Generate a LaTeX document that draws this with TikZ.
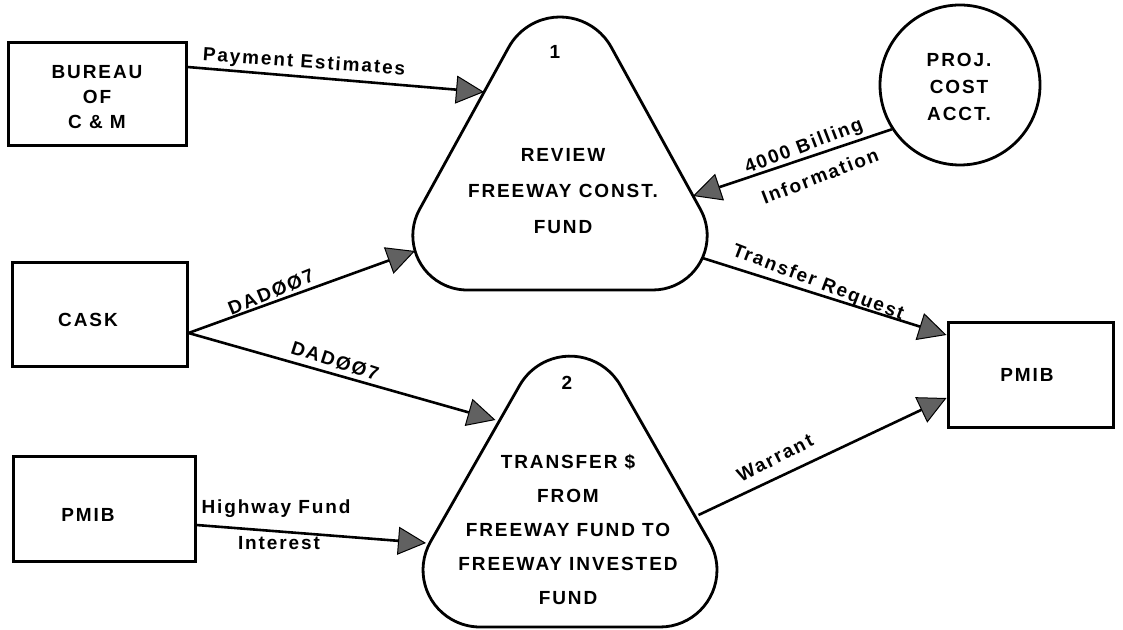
\documentclass[tikz,border=0pt]{standalone}
\usepackage{fontspec}
\setmainfont{Liberation Sans}[LetterSpace=10]
\usetikzlibrary{arrows.meta}

% Rounded process triangle: #1 centre x, #2 apex y, #3 base y,
% #4 half angle at the apex, #5 apex radius, #6 base corner radius
\newcommand\proctri[6]{%
  \pgfmathsetmacro\ptS{sin(#4)}%
  \pgfmathsetmacro\ptC{cos(#4)}%
  \pgfmathsetmacro\ptU{((#2-#3)*\ptS-#6*(1+\ptS))/\ptC}%
  \pgfmathsetmacro\ptT{#2-#5/\ptS}%
  \draw[procline] (#1-\ptU,#3) -- (#1+\ptU,#3)
    arc[start angle=-90,end angle=#4,radius=#6pt]
    -- (#1+#5*\ptC,\ptT+#5*\ptS)
    arc[start angle=#4,end angle=180-#4,radius=#5pt]
    -- (#1-\ptU-#6*\ptC,#3+#6+#6*\ptS)
    arc[start angle=180-#4,end angle=270,radius=#6pt]
    -- cycle;
}

\tikzset{
  entity/.style={draw, line width=3pt, rectangle, inner sep=0pt},
  procline/.style={line width=2.8pt},
  flow/.style={line width=2.6pt,
    -{Triangle[length=28pt,width=28pt,fill=black!62,line width=1pt]}},
  lbl/.style={font=\fontsize{19}{24}\selectfont\bfseries, inner sep=0pt},
  stack/.style={font=\fontsize{19}{36}\selectfont\bfseries, align=center, inner sep=0pt},
}

\begin{document}
\begin{tikzpicture}[x=1pt,y=1pt]
\useasboundingbox (0,0) rectangle (1123,629);
\fill[white] (0,0) rectangle (1123,629);

% external entities
\node[entity, minimum width=178pt, minimum height=103pt] (bureau) at (97,534.5) {};
\node[stack, font=\fontsize{19}{25}\selectfont\bfseries] (bureauT) at (97,532) {BUREAU\\OF\\C \& M};
\node[entity, minimum width=175pt, minimum height=104pt] (cask) at (99.5,314) {};
\node[lbl] (caskT) at (88,309) {CASK};
\node[entity, minimum width=182pt, minimum height=105pt] (pmibL) at (104,120) {};
\node[lbl] (pmibLT) at (88,114) {PMIB};
\node[entity, minimum width=165pt, minimum height=105pt] (pmibR) at (1030.5,253.5) {};
\node[lbl] (pmibRT) at (1027,254) {PMIB};
\node[draw, circle, line width=2.8pt, minimum size=160pt, inner sep=0pt] (proj) at (960,544) {};
\node[stack, font=\fontsize{19}{27}\selectfont\bfseries] (projT) at (959,542) {PROJ.\\COST\\ACCT.};

% processes
\proctri{560}{675}{339}{28.81}{58.6}{54.4}
\node[lbl] (num1) at (555,577) {1};
\node[stack] (proc1) at (563,438) {REVIEW\\FREEWAY CONST.\\FUND};
\proctri{570}{332}{2}{29.68}{58}{57}
\node[lbl] (num2) at (567,246) {2};
\node[stack, font=\fontsize{19}{34}\selectfont\bfseries] (proc2) at (568,99)
  {TRANSFER \$\\FROM\\FREEWAY FUND TO\\FREEWAY INVESTED\\FUND};

% points on the process outlines
\coordinate (p1pay) at (484,537);
\coordinate (p1cask) at (415,378);
\coordinate (p1bill) at (693,433);
\coordinate (p1out) at (702.4,371);
\coordinate (p2cask) at (495.5,209);
\coordinate (p2int) at (426,86);
\coordinate (p2out) at (698.5,114);

% data flows
\draw[flow] ([yshift=27.5pt]bureau.east) -- (p1pay);
\draw[flow] (proj.213) -- (p1bill);
\draw[flow] (p1out) -- ([yshift=40.5pt]pmibR.west);
\draw[flow] ([yshift=-18pt]cask.east) -- (p1cask);
\draw[flow] ([yshift=-18pt]cask.east) -- (p2cask);
\draw[flow] ([yshift=-16pt]pmibL.east) -- (p2int);
\draw[flow] (p2out) -- ([yshift=-22.5pt]pmibR.west);

% flow labels
\node[lbl, rotate=-4] (lpay) at (304,566) {Payment Estimates};
\node[lbl, rotate=21] (lbill) at (804,482) {4000 Billing};
\node[lbl, rotate=21] (linfo) at (820,453) {Information};
\node[lbl, rotate=-21] (ltr) at (818,346) {Transfer Request};
\node[lbl, rotate=22] (ldad1) at (271,337) {DADØØ7};
\node[lbl, rotate=-18] (ldad2) at (335,268) {DADØØ7};
\node[lbl] (lhwy) at (276,120) {Highway Fund};
\node[lbl] (lint) at (279,86) {Interest};
\node[lbl, rotate=27] (lwar) at (775,171) {Warrant};
\end{tikzpicture}
\end{document}
